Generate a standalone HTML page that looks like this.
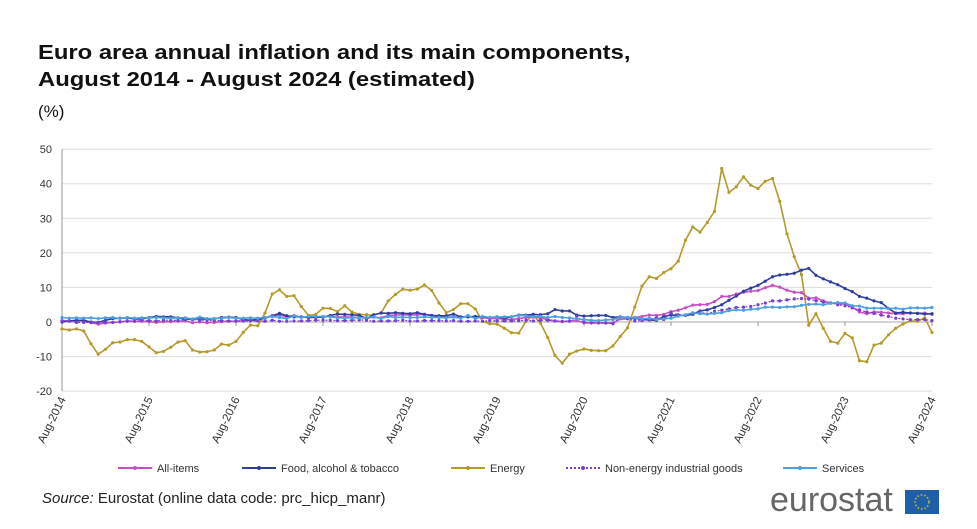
<!DOCTYPE html>
<html><head><meta charset="utf-8"><style>
body{margin:0;background:#fff;font-family:"Liberation Sans",Arial,sans-serif;}
#wrap{position:relative;width:977px;height:529px;overflow:hidden;}
.t{position:absolute;left:38px;font-weight:bold;font-size:20px;color:#111;transform:scaleX(1.19);transform-origin:left top;white-space:nowrap;}
</style></head><body>
<div id="wrap">
<div class="t" style="top:42px">Euro area annual inflation and its main components,</div>
<div class="t" style="top:69px">August 2014 - August 2024 (estimated)</div>
<div class="t" style="top:102px;font-weight:normal;font-size:17px;transform:none">(%)</div>
<svg id="c" width="977" height="529" style="position:absolute;left:0;top:0"></svg>
<div style="position:absolute;left:42px;top:490px;font-size:15px;color:#222"><i>Source:</i> Eurostat (online data code: prc_hicp_manr)</div>
<div style="position:absolute;left:770px;top:481px;font-size:34px;color:#666;letter-spacing:0px">eurostat</div>
<svg style="position:absolute;left:905px;top:490px" width="34" height="24"><rect width="34" height="24" fill="#1f5fa8"/><circle cx="17" cy="12" r="7" fill="none" stroke="#e5c200" stroke-width="1.5" stroke-dasharray="1.5 2"/></svg>
</div>
<script>
const xLabels=["Aug-2014","Aug-2015","Aug-2016","Aug-2017","Aug-2018","Aug-2019","Aug-2020","Aug-2021","Aug-2022","Aug-2023","Aug-2024"];
const yTicks=[50,40,30,20,10,0,-10,-20];
const allItems=[0.4,0.3,0.4,0.3,-0.2,-0.6,-0.3,-0.1,0.0,0.3,0.2,0.2,0.1,-0.1,0.1,0.1,0.2,0.3,-0.2,0.0,-0.2,-0.1,0.1,0.2,0.2,0.4,0.5,0.6,1.1,1.8,2.0,1.5,1.9,1.4,1.3,1.3,1.5,1.6,1.4,1.5,1.4,1.3,1.1,1.4,1.2,1.9,2.0,2.1,2.0,2.1,2.2,1.9,1.5,1.4,1.5,1.4,1.7,1.2,1.3,1.0,1.0,0.8,0.7,1.0,1.3,1.4,1.2,0.7,0.3,0.1,0.3,0.4,-0.2,-0.3,-0.3,-0.3,-0.3,0.9,0.9,1.3,1.6,2.0,1.9,2.2,3.0,3.4,4.1,4.9,5.0,5.1,5.9,7.4,7.4,8.1,8.6,8.9,9.1,9.9,10.6,10.1,9.2,8.6,8.5,6.9,7.0,6.1,5.5,5.3,5.2,4.3,2.9,2.4,2.9,2.8,2.6,2.4,2.4,2.6,2.5,2.6,2.2];
const food=[0.0,0.3,0.5,0.5,0.0,-0.1,0.5,1.0,1.1,1.2,0.9,0.9,1.3,1.6,1.5,1.5,1.2,0.8,0.8,1.0,0.8,0.9,1.3,1.4,1.3,0.7,0.5,0.7,1.2,1.8,2.5,1.8,1.5,1.5,1.3,1.4,1.4,1.9,2.3,2.2,2.1,1.9,1.0,2.1,2.6,2.5,2.7,2.5,2.4,2.7,2.2,1.9,1.8,1.8,2.3,1.5,1.5,1.6,1.5,1.3,1.5,1.1,1.5,2.0,2.0,2.2,2.1,2.4,3.6,3.2,3.2,2.0,1.7,1.8,1.9,1.9,1.3,1.5,1.3,1.1,0.7,0.6,0.5,1.6,2.0,1.9,1.9,2.2,3.2,3.5,4.2,5.0,6.3,7.5,8.9,9.8,10.6,11.8,13.1,13.6,13.8,14.1,15.0,15.5,13.5,12.5,11.6,10.8,9.7,8.8,7.4,6.9,6.1,5.6,3.9,2.6,2.8,2.6,2.5,2.3,2.4];
const energy=[-2.0,-2.3,-2.0,-2.6,-6.3,-9.3,-7.9,-6.0,-5.8,-5.1,-5.1,-5.6,-7.2,-8.9,-8.5,-7.3,-5.8,-5.4,-8.1,-8.7,-8.6,-8.1,-6.4,-6.7,-5.6,-3.0,-0.9,-1.1,2.6,8.1,9.3,7.4,7.6,4.5,1.9,2.2,4.0,3.9,3.0,4.7,2.9,2.2,2.1,2.0,2.6,6.1,8.0,9.5,9.2,9.5,10.7,9.1,5.5,2.7,3.6,5.3,5.3,3.8,0.2,-0.5,-0.6,-1.8,-3.1,-3.2,0.2,1.9,-0.3,-4.5,-9.7,-11.9,-9.3,-8.4,-7.8,-8.2,-8.3,-8.3,-6.9,-4.2,-1.7,4.3,10.4,13.1,12.6,14.3,15.4,17.6,23.7,27.5,26.0,28.8,32.0,44.4,37.5,39.1,42.0,39.6,38.6,40.7,41.5,34.9,25.5,18.9,13.7,-0.9,2.4,-1.8,-5.6,-6.1,-3.3,-4.6,-11.2,-11.5,-6.7,-6.1,-3.7,-1.8,-0.6,0.3,0.2,1.2,-3.0];
const neig=[0.3,0.2,-0.1,-0.1,-0.1,-0.1,-0.1,-0.1,0.1,0.2,0.2,0.5,0.4,0.3,0.5,0.5,0.5,0.7,0.7,0.5,0.5,0.4,0.4,0.3,0.3,0.3,0.3,0.3,0.2,0.5,0.2,0.2,0.3,0.3,0.4,0.5,0.5,0.5,0.4,0.4,0.5,0.6,0.5,0.2,0.3,0.3,0.4,0.5,0.3,0.3,0.4,0.4,0.4,0.3,0.4,0.2,0.2,0.3,0.2,0.4,0.3,0.3,0.3,0.4,0.5,0.3,0.5,0.5,0.3,0.2,0.2,1.6,-0.1,-0.1,-0.1,-0.3,-0.5,1.5,1.0,0.3,0.4,0.7,1.2,0.7,2.6,2.1,2.0,2.4,2.9,2.3,3.1,3.4,3.8,4.2,4.3,4.5,5.0,5.5,6.1,6.1,6.4,6.7,6.8,6.6,6.2,5.8,5.5,5.0,4.7,4.1,3.5,2.9,2.5,2.0,1.6,1.1,0.9,0.7,0.7,0.7,0.4];
const services=[1.3,1.1,1.2,1.1,1.2,1.0,1.2,1.3,1.0,1.3,1.1,1.2,1.2,1.3,1.2,1.1,1.2,1.2,0.9,1.4,1.0,1.0,1.1,1.3,1.1,1.1,1.2,1.1,1.3,1.6,1.3,1.0,1.8,1.3,1.6,1.6,1.6,1.5,1.2,1.2,1.2,1.2,1.3,1.5,1.0,1.6,1.3,1.4,1.3,1.3,1.5,1.3,1.3,1.2,1.4,1.1,1.9,1.0,1.6,1.3,1.4,1.5,1.5,1.9,1.8,1.5,1.6,1.3,1.6,1.3,1.2,0.9,0.7,0.5,0.4,0.6,0.7,1.4,1.3,1.3,0.9,1.1,0.7,0.9,1.1,1.7,2.1,2.7,2.4,2.3,2.5,2.7,3.3,3.5,3.4,3.7,3.8,4.3,4.3,4.2,4.4,4.4,4.8,5.1,5.2,5.0,5.4,5.6,5.5,4.7,4.6,4.0,4.0,4.0,3.9,4.0,3.7,4.1,4.1,4.0,4.2];
const seriesNames=["All-items","Food, alcohol & tobacco","Energy","Non-energy industrial goods","Services"];

const NS="http://www.w3.org/2000/svg",svg=document.getElementById("c");
const X0=62,X1=932,Y0=322,PU=3.457,N=allItems.length;
const xs=i=>X0+(X1-X0)*i/(N-1), ys=v=>Y0-v*PU;
function mk(t,a,p){const e=document.createElementNS(NS,t);for(const k in a)e.setAttribute(k,a[k]);(p||svg).appendChild(e);return e;}
yTicks.forEach(v=>{
 const g=mk("line",{x1:X0,x2:X1,y1:ys(v),y2:ys(v),stroke:v==0?"#aaa":"#ddd","stroke-width":1});
 
 
 const t=mk("text",{x:52,y:ys(v)+4,"text-anchor":"end","font-size":11,fill:"#333","font-family":"Liberation Sans"});
 t.textContent=v;
 
 
});
const ax=mk("line",{x1:X0,x2:X0,y1:ys(50),y2:ys(-20),stroke:"#999"});


xLabels.forEach((l,k)=>{
 const x=xs(k*12);
 const tk=mk("line",{x1:x,x2:x,y1:Y0,y2:Y0+4,stroke:"#999"});
 
 
 const t=mk("text",{transform:`translate(${x+4},${ys(-20)+8}) rotate(-64)`,"text-anchor":"end","font-size":11.5,fill:"#333","font-family":"Liberation Sans"});
 t.textContent=l;
 
 
});
const styles=[["#c54fc5",""],["#2e3f9e",""],["#b39a2a",""],["#7a3fd0","2 2"],["#4c9fe0",""]];
const data=[allItems,food,energy,neig,services];
const order=[2,0,1,3,4];
order.forEach(s=>{
 const [col,dash]=styles[s];
 const g=mk("g",{});
 
 
 const p=mk("polyline",{points:data[s].map((v,i)=>xs(i)+","+ys(v)).join(" "),fill:"none",stroke:col,"stroke-width":s==3?1.2:1.6,"stroke-dasharray":dash},g);
 
 
 data[s].forEach((v,i)=>{
  const c=mk("circle",{cx:xs(i),cy:ys(v),r:1.6,fill:col},g);
  
  
 });
});
const lx=[118,242,451,566,783];
seriesNames.forEach((n,s)=>{
 const [col,dash]=styles[s];const y=468;
 const l=mk("line",{x1:lx[s],x2:lx[s]+34,y1:y,y2:y,stroke:col,"stroke-width":2,"stroke-dasharray":dash});
 
 
 const c=mk("circle",{cx:lx[s]+17,cy:y,r:2,fill:col});
 
 
 const t=mk("text",{x:lx[s]+39,y:y+4,"font-size":11,fill:"#333","font-family":"Liberation Sans"});
 t.textContent=n;
 
 
});
</script>
</body></html>
